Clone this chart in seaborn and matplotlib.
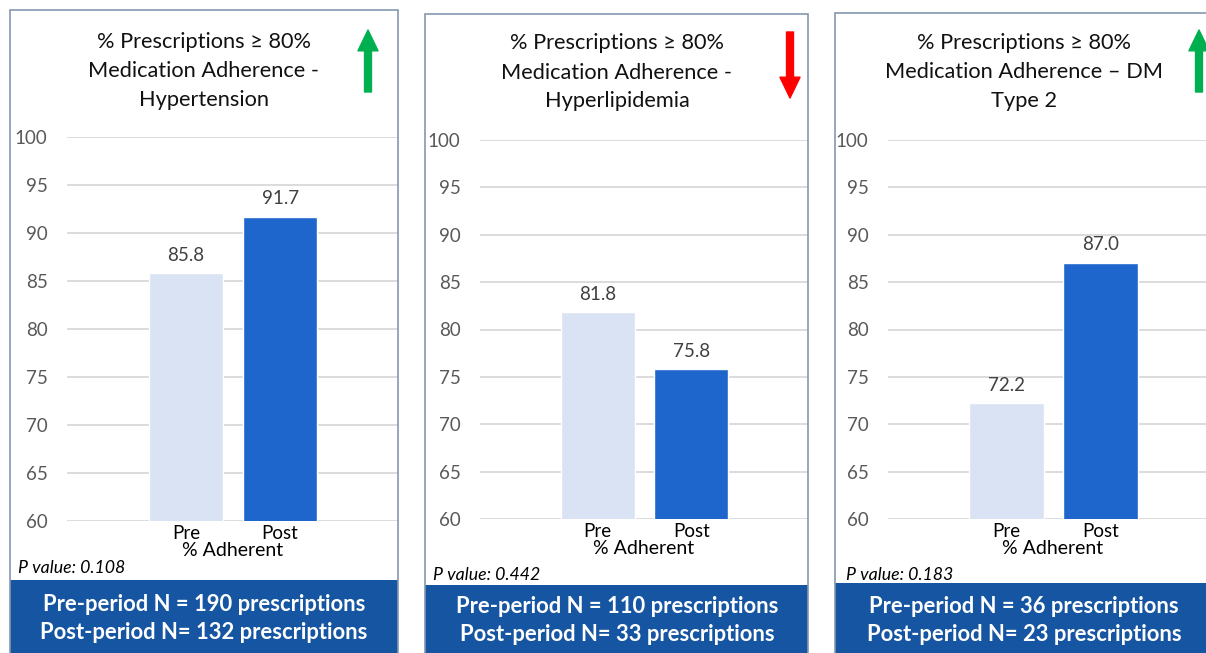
import matplotlib
matplotlib.use("Agg")
import matplotlib.pyplot as plt
from matplotlib.patches import Rectangle, FancyArrowPatch
import pandas as pd
import seaborn as sns

# ---- data -------------------------------------------------------------
periods = ["Pre", "Post"]
title_lines = [
    ["% Prescriptions \u2265 80%", "Medication Adherence -", "Hypertension"],
    ["% Prescriptions \u2265 80%", "Medication Adherence -", "Hyperlipidemia"],
    ["% Prescriptions \u2265 80%", "Medication Adherence \u2013 DM", "Type 2"],
]
pre_values = [85.8, 81.8, 72.2]
post_values = [91.7, 75.8, 87.0]
p_values = ["0.108", "0.442", "0.183"]
pre_n = [190, 110, 36]
post_n = [132, 33, 23]
trend = ["up", "down", "up"]
y_ticks = [60, 65, 70, 75, 80, 85, 90, 95, 100]

# ---- style ------------------------------------------------------------
sns.set_theme(style="white")
plt.rcParams["font.family"] = ["Lato", "DejaVu Sans"]

PRE_COLOR = "#DAE3F3"
POST_COLOR = "#1F66CC"
BAND_COLOR = "#1655A2"
BORDER_COLOR = "#8497B0"
GRID_COLOR = "#D9D9D9"
UP_COLOR = "#00B050"
DOWN_COLOR = "#FF0000"

W, H = 1206, 653
fig = plt.figure(figsize=(W / 100, H / 100), dpi=100)
fig.patch.set_facecolor("white")


def fx(px):
    return px / W


def fy(py):
    return 1 - py / H


# panel geometry in pixels
panels = [
    dict(left=10, right=398, top=10, band=580, ax=(67, 398, 137, 521),
         cx=204, title_y=(48, 77, 106), arrow_x=368, p_xy=(18, 573), band_y=(611, 639)),
    dict(left=425, right=808, top=14, band=585, ax=(480, 808, 140, 519),
         cx=617, title_y=(49, 79, 107), arrow_x=790, p_xy=(433, 580), band_y=(613, 641)),
    dict(left=835, right=1220, top=13, band=583, ax=(888, 1218, 140, 519),
         cx=1024, title_y=(49, 78, 107), arrow_x=1199, p_xy=(846, 580), band_y=(613, 641)),
]

for i, g in enumerate(panels):
    # white card with outline and blue footer band
    fig.add_artist(Rectangle((fx(g["left"]), 0), fx(g["right"]) - fx(g["left"]),
                             fy(g["top"]), transform=fig.transFigure,
                             facecolor="white", edgecolor="none", zorder=-2))
    fig.add_artist(Rectangle((fx(g["left"]), 0), fx(g["right"]) - fx(g["left"]),
                             fy(g["band"]), transform=fig.transFigure,
                             facecolor=BAND_COLOR, edgecolor="none", zorder=-1))
    fig.add_artist(Rectangle((fx(g["left"]), -0.01), fx(g["right"]) - fx(g["left"]),
                             fy(g["top"]) + 0.01, transform=fig.transFigure,
                             facecolor="none", edgecolor=BORDER_COLOR, lw=1.2, zorder=5))

    # bar chart
    l, r, t, b = g["ax"]
    ax = fig.add_axes([fx(l), fy(b), fx(r) - fx(l), fy(t) - fy(b)])
    ax.set_facecolor("none")
    df = pd.DataFrame({"period": periods, "value": [pre_values[i], post_values[i]]})
    sns.barplot(data=df, x="period", y="value", hue="period",
                palette=[PRE_COLOR, POST_COLOR], saturation=1, width=0.79,
                legend=False, ax=ax)
    for cont in ax.containers:
        ax.bar_label(cont, fmt="%.1f", padding=7, fontsize=13.5, color="#404040")
    ax.set_ylim(60, 100)
    ax.set_xlim(-1.26, 2.25)
    ax.set_yticks(y_ticks)
    ax.set_axisbelow(True)
    ax.yaxis.grid(True, color=GRID_COLOR, lw=1.3)
    ax.xaxis.grid(False)
    for s in ax.spines.values():
        s.set_visible(False)
    ax.tick_params(axis="y", length=0, pad=14, labelsize=13.5, labelcolor="#595959")
    ax.tick_params(axis="x", length=0, pad=3, labelsize=13.5, labelcolor="black")
    ax.set_ylabel("")
    ax.set_xlabel("% Adherent", fontsize=14, color="black", labelpad=0)

    # title lines
    for line, yy in zip(title_lines[i], g["title_y"]):
        fig.text(fx(g["cx"]), fy(yy), line, ha="center", va="baseline",
                 fontsize=15.7, color="#111111")

    # trend arrow
    ax_x = fx(g["arrow_x"])
    if trend[i] == "up":
        pa, pb, col = (ax_x, fy(92)), (ax_x, fy(30)), UP_COLOR
    else:
        pa, pb, col = (ax_x, fy(32)), (ax_x, fy(98)), DOWN_COLOR
    fig.add_artist(FancyArrowPatch(pa, pb, transform=fig.transFigure,
                                   arrowstyle="simple,head_length=15,head_width=14.5,tail_width=5",
                                   mutation_scale=1, color=col, shrinkA=0, shrinkB=0, zorder=6))

    # p value
    fig.text(fx(g["p_xy"][0]), fy(g["p_xy"][1]), f"P value: {p_values[i]}",
             ha="left", va="baseline", fontsize=12.8, style="italic", color="black")

    # sample sizes in footer
    fig.text(fx(g["cx"]), fy(g["band_y"][0]), f"Pre-period N = {pre_n[i]} prescriptions",
             ha="center", va="baseline", fontsize=15.8, weight="bold", color="white", zorder=7)
    fig.text(fx(g["cx"]), fy(g["band_y"][1]), f"Post-period N= {post_n[i]} prescriptions",
             ha="center", va="baseline", fontsize=15.8, weight="bold", color="white", zorder=7)

fig.savefig("out.png", dpi=100)
